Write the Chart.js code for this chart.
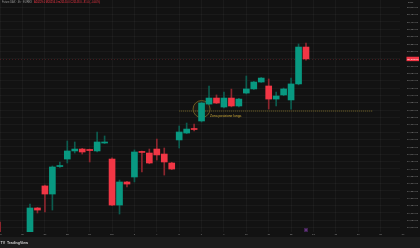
<!DOCTYPE html>
<html>
<head>
<meta charset="utf-8">
<title>FDAX</title>
<script src="https://cdn.jsdelivr.net/npm/chart.js@4.4.1/dist/chart.umd.min.js"></script>
<style>
    html, body { margin: 0; padding: 0; background: #121212; overflow: hidden; }
    #wrap { width: 420px; height: 248px; }
</style>
</head>
<body>
<div id="wrap"><canvas id="fdaxChart" width="420" height="248"></canvas></div>
<script>
// Candle slots (3 per day). null = slot not visible in the picture
const opens  = [18955, null, null, null, 18960, 19134, 19284, 19229, 19416, 19467, 19522, 19535, 19532, 19522, 19576, 19467, 19154, 19311, 19345, 19518, 19508, 19535, 19501, 19440, 19597, 19644, 19673, 19726, 19841, 19882, 19821, 19882, 19828, 19916, 19944, 19991, 19964, 19875, 19903, 19869, 19978, 20229];
const highs  = [19039, null, null, null, 19161, 19138, 19290, 19420, 19447, 19590, 19583, 19540, 19535, 19651, 19624, 19475, 19324, 19315, 19529, 19522, 19535, 19603, 19542, 19445, 19692, 19712, 19705, 19855, 19964, 19903, 19923, 19943, 19880, 20032, 19996, 20022, 20012, 19923, 19950, 20018, 20250, 20256];
const lows   = [18880, null, null, null, 18950, 19100, 19107, 19120, 19410, 19440, 19508, 19501, 19447, 19515, 19572, 19150, 19093, 19277, 19311, 19379, 19435, 19460, 19358, 19395, 19542, 19640, 19658, 19719, 19836, 19844, 19815, 19822, 19822, 19910, 19940, 19988, 19807, 19828, 19898, 19807, 19972, 20140];
const closes = [18900, null, null, null, 19134, 19120, 19229, 19413, 19423, 19522, 19535, 19515, 19525, 19583, 19583, 19154, 19311, 19297, 19515, 19512, 19440, 19495, 19447, 19399, 19651, 19671, 19668, 19848, 19882, 19848, 19882, 19828, 19875, 19944, 19991, 20018, 19875, 19896, 19944, 19978, 20229, 20148];

// time axis: label every 3 slots
const dateIdx    = [0, 3, 6, 9, 12, 15, 18, 21, 24, 27, 30, 33, 36, 39, 42, 45, 48, 51, 54];
const dateLabels = ['25', '26', '27', '28', '29', 'Dic', '3', '4', '5', '6', '9', '10', '11', '12', '13', '16', '17', '18', '19'];

// price axis ticks
const priceTicks = [19000, 19050, 19100, 19150, 19200, 19250, 19300, 19350, 19400, 19450, 19500, 19550, 19600, 19650, 19700, 19750, 19800, 19850, 19900, 19950, 20000, 20050, 20100, 20150, 20200, 20250, 20300, 20350, 20400, 20450, 20500];

// long position zone drawing
const zonePrice = 19794;
const zoneFrom = 24;
const zoneTo = 50;
const zoneLabel = 'Zona posizione lunga';
const circleSlot = 27;
const circlePrice = 19807;
const markerSlot = 41;

const GREEN = '#089981';
const RED = '#f23645';
const GREEN_WICK = '#0c5c4f';
const RED_WICK = '#8d262e';
const FONT = "'Liberation Sans', Arial, sans-serif";
const gridColor = 'rgba(255, 255, 255, 0.035)';

const last = opens.length - 1;
const lastPrice = closes[last];

function fmtPrice(v) {
    return v.toLocaleString('en-US', { minimumFractionDigits: 2, maximumFractionDigits: 2 });
}

// no automatic label padding around the plot
function noPadding(s) {
    s.paddingTop = 0;
    s.paddingBottom = 0;
    s.paddingLeft = 0;
    s.paddingRight = 0;
}

const bodies = [];
const wicks = [];
const bodyColors = [];
const wickColors = [];
opens.forEach(function(o, i) {
    if (o === null) return;
    const up = closes[i] >= o;
    bodies.push({ x: i, y: [o, closes[i]] });
    wicks.push({ x: i, y: [lows[i], highs[i]] });
    bodyColors.push(up ? GREEN : RED);
    wickColors.push(up ? GREEN_WICK : RED_WICK);
});

const overlayPlugin = {
    id: 'overlay',
    beforeDraw(chart) {
        const { ctx, width, height } = chart;
        ctx.save();
        ctx.fillStyle = '#121212';
        ctx.fillRect(0, 0, width, height);
        ctx.restore();
    },
    beforeDatasetsDraw(chart) {
        const { ctx, chartArea, scales: { x, y } } = chart;
        ctx.save();

        // current price line
        const py = Math.round(y.getPixelForValue(lastPrice)) + 0.5;
        ctx.strokeStyle = 'rgba(242, 54, 69, 0.22)';
        ctx.lineWidth = 1;
        ctx.setLineDash([1, 2]);
        ctx.beginPath();
        ctx.moveTo(chartArea.left, py);
        ctx.lineTo(chartArea.right, py);
        ctx.stroke();

        // zone line
        const zy = y.getPixelForValue(zonePrice);
        ctx.strokeStyle = '#4a4220';
        ctx.lineWidth = 2;
        ctx.setLineDash([1, 1]);
        ctx.beginPath();
        ctx.moveTo(x.getPixelForValue(zoneFrom), zy);
        ctx.lineTo(x.getPixelForValue(zoneTo), zy);
        ctx.stroke();

        // circle around entry candle
        ctx.setLineDash([]);
        ctx.beginPath();
        ctx.arc(x.getPixelForValue(circleSlot), y.getPixelForValue(circlePrice), 8.5, 0, Math.PI * 2);
        ctx.fillStyle = 'rgba(200, 170, 60, 0.06)';
        ctx.fill();
        ctx.strokeStyle = '#6b5b22';
        ctx.lineWidth = 1;
        ctx.stroke();
        ctx.restore();
    },
    afterDraw(chart) {
        const { ctx, width, height, chartArea, scales: { x, y } } = chart;
        ctx.save();

        // zone text
        ctx.font = '3.3px ' + FONT;
        ctx.fillStyle = '#d1ad3a';
        ctx.textBaseline = 'middle';
        ctx.textAlign = 'left';
        ctx.fillText(zoneLabel, x.getPixelForValue(circleSlot) + 8.5, y.getPixelForValue(zonePrice) + 5);

        // event marker
        const mx = x.getPixelForValue(markerSlot);
        ctx.fillStyle = '#3f2150';
        ctx.fillRect(mx - 2, chartArea.bottom - 4, 4, 4);
        ctx.fillStyle = '#62347a';
        ctx.fillRect(mx - 1, chartArea.bottom - 3, 2, 2);

        // last time label that sits under the price scale
        ctx.font = '2.5px ' + FONT;
        ctx.fillStyle = '#8f8f8f';
        ctx.textAlign = 'center';
        const li = dateIdx.length - 1;
        ctx.fillText(dateLabels[li], x.getPixelForValue(dateIdx[li]), chartArea.bottom + 2.7);

        // current price tag
        const py = y.getPixelForValue(lastPrice);
        ctx.fillStyle = RED;
        ctx.fillRect(406.5, py - 2.2, 12.5, 4.4);
        ctx.fillStyle = '#ffffff';
        ctx.textAlign = 'left';
        ctx.fillText(fmtPrice(lastPrice), 407.2, py + 0.1);

        // currency
        ctx.fillStyle = '#8f8f8f';
        ctx.fillText('EUR', 408, 2.3);

        // header
        ctx.font = '2.6px ' + FONT;
        const title = 'Future DAX \u00b7 4h \u00b7 EUREX';
        ctx.fillStyle = '#9a9a9a';
        ctx.fillText(title, 2, 2.4);
        const tw = ctx.measureText(title).width;
        const chg = lastPrice - opens[last];
        const ohlc = 'A' + opens[last].toFixed(1) + ' M' + highs[last].toFixed(1) + ' m' + lows[last].toFixed(1) +
            ' C' + closes[last].toFixed(1) + ' \u2212' + Math.abs(chg).toFixed(1) +
            ' (\u2212' + Math.abs(chg / opens[last] * 100).toFixed(2) + '%)';
        ctx.fillStyle = RED;
        ctx.fillText(ohlc, 2 + tw + 2, 2.4);

        // bottom band with logo
        ctx.fillStyle = '#1c1c1c';
        ctx.fillRect(0, 237, width, height - 237);
        ctx.fillStyle = '#cfcfcf';
        ctx.font = 'bold 3.6px ' + FONT;
        ctx.fillText('TV', 0.5, 243);
        ctx.fillText('TradingView', 7, 243);
        ctx.restore();
    }
};

new Chart(document.getElementById('fdaxChart'), {
    type: 'bar',
    data: {
        datasets: [
            {
                label: 'body',
                data: bodies,
                backgroundColor: bodyColors,
                borderWidth: 0,
                barThickness: 6,
                minBarLength: 1,
                grouped: false
            },
            {
                label: 'wick',
                data: wicks,
                backgroundColor: wickColors,
                borderWidth: 0,
                barThickness: 1,
                minBarLength: 1,
                grouped: false
            }
        ]
    },
    options: {
        responsive: false,
        animation: false,
        devicePixelRatio: 1,
        layout: {
            autoPadding: false,
            padding: { top: 0, left: 0, right: 0, bottom: 11 }
        },
        plugins: {
            legend: { display: false },
            tooltip: { enabled: false }
        },
        scales: {
            x: {
                type: 'linear',
                offset: false,
                min: -0.0214,
                max: 53.601,
                afterFit: function(s) { s.height = 5; noPadding(s); },
                afterBuildTicks: function(s) {
                    s.ticks = dateIdx.filter(v => v <= 53).map(v => ({ value: v }));
                },
                grid: { color: gridColor, drawTicks: false, offset: false },
                border: { display: false },
                ticks: {
                    autoSkip: false,
                    maxRotation: 0,
                    padding: 1,
                    color: '#8f8f8f',
                    font: { size: 2.5, family: FONT },
                    callback: function(v, i) { return dateLabels[i]; }
                }
            },
            y: {
                position: 'right',
                min: 18970.7,
                max: 20549,
                afterFit: function(s) { s.width = 20; noPadding(s); },
                afterBuildTicks: function(s) {
                    s.ticks = priceTicks.map(v => ({ value: v }));
                },
                grid: { color: gridColor, drawTicks: false },
                border: { display: false },
                ticks: {
                    padding: 7,
                    color: '#8f8f8f',
                    font: { size: 2.5, family: FONT },
                    callback: function(v) { return fmtPrice(v); }
                }
            }
        }
    },
    plugins: [overlayPlugin]
});
</script>
</body>
</html>
